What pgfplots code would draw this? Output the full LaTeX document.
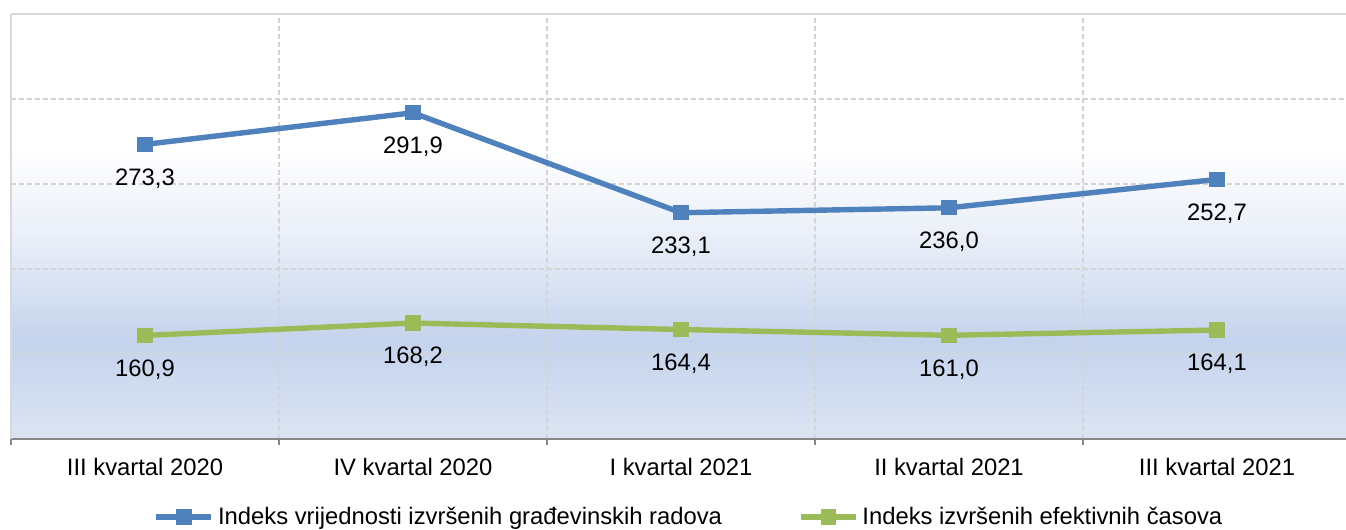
\documentclass[border=0pt]{standalone}
\usepackage{pgfplots}
\pgfplotsset{compat=1.18}
\usepackage{fontspec}
\setmainfont{Liberation Sans}
\definecolor{serA}{HTML}{4F81BD}
\definecolor{serB}{HTML}{9BBB59}
\definecolor{gridc}{HTML}{D4D4D4}
\definecolor{borderc}{HTML}{D9D9D9}
\definecolor{axisc}{HTML}{868686}
\definecolor{bgbot}{HTML}{DCE4F3}
\definecolor{bgpeak}{HTML}{C4D3EC}
\definecolor{bgmid}{HTML}{E6ECF7}
\pgfdeclareverticalshading{plotbg}{100bp}{color(0bp)=(bgbot); color(25bp)=(bgbot); color(36.6bp)=(bgpeak); color(47.5bp)=(bgmid); color(59bp)=(white); color(75bp)=(white); color(100bp)=(white)}
\pgfplotstableread{
x y lab
0 273.3 273,3
1 291.9 291,9
2 233.1 233,1
3 236.0 236,0
4 252.7 252,7
}\dataA
\pgfplotstableread{
x y lab
0 160.9 160,9
1 168.2 168,2
2 164.4 164,4
3 161.0 161,0
4 164.1 164,1
}\dataB
\begin{document}
\begin{tikzpicture}
\useasboundingbox (0,0) rectangle (673pt,265pt);
\begin{axis}[
  at={(5.5pt,45.5pt)}, anchor=south west,
  scale only axis, width=670pt, height=212.5pt,
  xmin=-0.5, xmax=4.5, ymin=100, ymax=350,
  axis background/.style={shade, shading=plotbg},
  axis x line*=bottom, axis y line*=left,
  x axis line style={draw=axisc, line width=1pt},
  y axis line style={draw=borderc, line width=0.75pt},
  xtick={0,1,2,3,4},
  xticklabels={III kvartal 2020, IV kvartal 2020, I kvartal 2021, II kvartal 2021, III kvartal 2021},
  minor xtick={-0.5,0.5,1.5,2.5,3.5,4.5},
  major tick length=0pt, minor tick length=3pt, tick align=outside,
  minor tick style={draw=axisc, line width=1pt},
  xminorgrids, ymajorgrids,
  minor grid style={draw=gridc, line width=0.75pt, dash pattern=on 2.5pt off 1.5pt},
  major grid style={draw=gridc, line width=0.75pt, dash pattern=on 2.5pt off 1.5pt},
  ytick={100,150,200,250,300,350}, yticklabels={},
  ytick style={draw=none},
  xticklabel style={font=\fontsize{11.9}{14}\selectfont, yshift=-6pt},
  point meta=explicit symbolic,
  nodes near coords={\pgfplotspointmeta},
  nodes near coords style={font=\fontsize{11.9}{14}\selectfont, anchor=center, yshift=-17pt, text=black},
  legend columns=2,
  legend style={draw=none, fill=none, at={(0.5067,-0.1835)}, anchor=center,
    font=\fontsize{11.9}{14}\selectfont,
    /tikz/every even column/.append style={column sep=36pt},
    inner sep=0pt},
  legend image code/.code={\draw[#1, mark repeat=2, mark phase=2] plot coordinates {(0pt,0pt) (13.75pt,0pt) (27.5pt,0pt)};},
  clip=false,
]
\addplot[serA, line width=2.7pt, mark=square*, mark size=3.6pt, mark options={solid, line width=0pt}] table[x=x, y=y, meta=lab] {\dataA};
\addlegendentry{Indeks vrijednosti izvršenih građevinskih radova}
\addplot[serB, line width=2.7pt, mark=square*, mark size=3.6pt, mark options={solid, line width=0pt}] table[x=x, y=y, meta=lab] {\dataB};
\addlegendentry{Indeks izvršenih efektivnih časova}
\draw[borderc, line width=0.75pt] (rel axis cs:0,1) -- (rel axis cs:1,1);
\end{axis}
\end{tikzpicture}
\end{document}
